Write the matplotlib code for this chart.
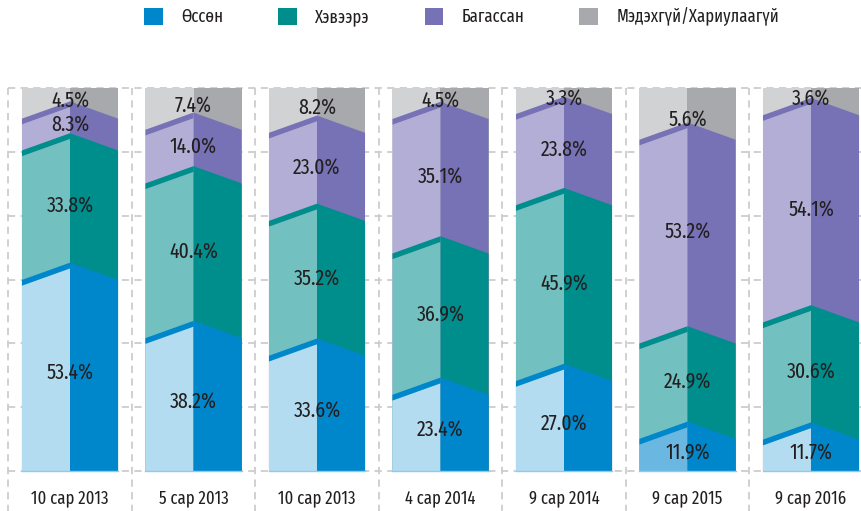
import matplotlib
matplotlib.use('Agg')
import numpy as np
from matplotlib import pyplot as plt
from matplotlib.patches import Polygon, Patch

periods = ['10 сар 2013', '5 сар 2013', '10 сар 2013', '4 сар 2014', '9 сар 2014', '9 сар 2015', '9 сар 2016']
series = ['Өссөн', 'Хэвээрэ', 'Багассан', 'Мэдэхгүй/Хариулаагүй']
ossen = [53.4, 38.2, 33.6, 23.4, 27.0, 11.9, 11.7]
khevvere = [33.8, 40.4, 35.2, 36.9, 45.9, 24.9, 30.6]
bagassan = [8.3, 14.0, 23.0, 35.1, 23.8, 53.2, 54.1]
medekhgui = [4.5, 7.4, 8.2, 4.5, 3.3, 5.6, 3.6]

dark = ['#0087cb', '#008e8d', '#7672b5', '#a7a9ac']
light = ['#b3dcf0', '#72c1c0', '#b2aed6', '#d1d2d4']
ossen_light_2015 = '#6ab7e1'

FONT = ['Fira Sans Extra Condensed', 'Roboto Condensed', 'DejaVu Sans']
TXT = '#231f20'

fig = plt.figure(figsize=(8.61, 5.11), dpi=100)
ax = fig.add_axes([0, 0, 1, 1])
ax.set_xlim(-70 / 123.5, (861 - 70) / 123.5)
ax.set_ylim(-40 / 3.83, 471 / 3.83)
ax.axis('off')

# dashed grid
grid_kw = dict(color='#cdcdcd', lw=1.3, ls=(0, (4, 3)), zorder=0)
for gy in np.linspace(0, 100, 7):
    ax.plot([-0.5, 7], [gy, gy], **grid_kw)
for gx in np.arange(len(periods) + 1) - 0.5:
    ax.plot([gx, gx], [-12, 100], **grid_kw)

w = 0.389      # half bar width
drop = 4.5     # chevron drop at the edges
strip = 1.5    # thickness of the top strip on the left face
lift = 1.0

vals = np.array([ossen, khevvere, bagassan, medekhgui])
cum = np.cumsum(vals, axis=0)

for i in range(len(periods)):
    xl, xc, xr = i - w, i, i + w
    # top (grey) block, flat top
    ax.add_patch(Polygon([(xl, 0), (xl, 100), (xc, 100), (xc, 0)], closed=True,
                         fc=light[3], ec='none', zorder=2))
    ax.add_patch(Polygon([(xc, 0), (xc, 100), (xr, 100), (xr, 0)], closed=True,
                         fc=dark[3], ec='none', zorder=2))
    for k in (2, 1, 0):
        c = cum[k, i] + lift
        lc = light[k]
        if k == 0 and i == 5:
            lc = ossen_light_2015
        ax.add_patch(Polygon([(xl, 0), (xl, c - drop - strip), (xc, c - strip), (xc, 0)],
                             closed=True, fc=lc, ec='none', zorder=3))
        ax.add_patch(Polygon([(xl, c - drop - strip), (xl, c - drop), (xc, c), (xc, c - strip)],
                             closed=True, fc=dark[k], ec='none', zorder=3))
        ax.add_patch(Polygon([(xc, 0), (xc, c), (xr, c - drop), (xr, 0)],
                             closed=True, fc=dark[k], ec='none', zorder=3))
    ax.plot([xl, xr], [0, 0], color='#8ccbec', lw=1, zorder=4)
    # labels
    base = 0
    for k in range(4):
        ax.text(i, base + vals[k, i] / 2 - 1.2, '{:.1f}%'.format(vals[k, i]), ha='center', va='center',
                fontsize=15.5, color=TXT, family=FONT, zorder=5)
        base += vals[k, i]
    ax.text(i, -7.0, periods[i], ha='center', va='center', fontsize=13,
            color=TXT, family=FONT)

handles = [Patch(fc=dark[k], ec='none') for k in range(4)]
fig.legend(handles, series, loc='center', bbox_to_anchor=(0.536, 0.967), ncol=4,
           frameon=False, prop={'family': FONT, 'size': 13}, labelcolor=TXT,
           handlelength=1.05, handleheight=1.05, handletextpad=1.0, columnspacing=3.05)

fig.savefig('out.png')
